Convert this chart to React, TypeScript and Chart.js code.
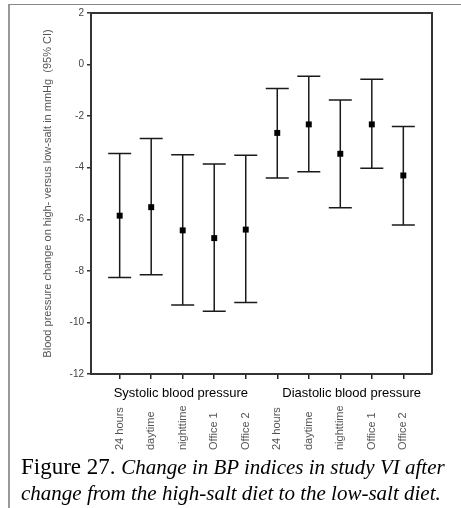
import React, { useEffect, useRef } from "react";
import { Chart, registerables } from "chart.js";

Chart.register(...registerables);

const groupLabels = ["Systolic blood pressure", "Diastolic blood pressure"];
const measureLabels = ["24 hours", "daytime", "nighttime", "Office 1", "Office 2"];
const categories = [...measureLabels, ...measureLabels];

const meanValues = [-5.86, -5.53, -6.43, -6.73, -6.4, -2.65, -2.32, -3.46, -2.32, -4.3];
const lowerCI = [-8.26, -8.15, -9.32, -9.57, -9.23, -4.4, -4.16, -5.55, -4.02, -6.22];
const upperCI = [-3.45, -2.87, -3.5, -3.86, -3.52, -0.93, -0.45, -1.37, -0.57, -2.4];

const yTicks = [2, 0, -2, -4, -6, -8, -10, -12];
const yTitle = "Blood pressure change on high- versus low-salt in mmHg  (95% CI)";
const captionHead = "Figure 27.";
const captionLine1 = "Change in BP indices in study VI after";
const captionLine2 = "change from the high-salt diet to the low-salt diet.";

const SANS = '"Liberation Sans", Arial, sans-serif';

const errorBarPlugin = {
  id: "errorBars",
  beforeDatasetsDraw(chart: any) {
    const { ctx, scales } = chart;
    const xs = scales.x;
    const ys = scales.y;
    ctx.save();
    ctx.strokeStyle = "#1a1a1a";
    ctx.lineWidth = 1.5;
    const cap = 11.5;
    categories.forEach((_, i) => {
      const x = xs.getPixelForValue(i);
      const yl = ys.getPixelForValue(lowerCI[i]);
      const yu = ys.getPixelForValue(upperCI[i]);
      ctx.beginPath();
      ctx.moveTo(x, yu);
      ctx.lineTo(x, yl);
      ctx.moveTo(x - cap, yu);
      ctx.lineTo(x + cap, yu);
      ctx.moveTo(x - cap, yl);
      ctx.lineTo(x + cap, yl);
      ctx.stroke();
    });
    ctx.restore();
  },
};

const decorPlugin = {
  id: "decor",
  afterDraw(chart: any) {
    const { ctx, chartArea, scales } = chart;
    const xs = scales.x;
    ctx.save();
    // plot frame top and right
    ctx.strokeStyle = "#333";
    ctx.lineWidth = 2;
    ctx.beginPath();
    ctx.moveTo(chartArea.left, chartArea.top);
    ctx.lineTo(chartArea.right, chartArea.top);
    ctx.lineTo(chartArea.right, chartArea.bottom);
    ctx.stroke();

    // y title
    ctx.fillStyle = "#555";
    ctx.font = `11px ${SANS}`;
    ctx.textAlign = "center";
    ctx.textBaseline = "middle";
    ctx.save();
    ctx.translate(48, (chartArea.top + chartArea.bottom) / 2);
    ctx.rotate(-Math.PI / 2);
    ctx.fillText(yTitle, 0, 0);
    ctx.restore();

    // group labels
    ctx.fillStyle = "#000";
    ctx.font = `13px ${SANS}`;
    ctx.textAlign = "left";
    ctx.textBaseline = "alphabetic";
    const gBase = chartArea.bottom + 23;
    ctx.fillText(groupLabels[0], xs.getPixelForValue(0) - 6, gBase);
    ctx.fillText(groupLabels[1], xs.getPixelForValue(5) + 5, gBase);

    // rotated category labels
    ctx.fillStyle = "#555";
    ctx.font = `11px ${SANS}`;
    ctx.textAlign = "left";
    ctx.textBaseline = "middle";
    const startY = chartArea.bottom + 76;
    categories.forEach((lab, i) => {
      const x = xs.getPixelForValue(i);
      ctx.save();
      ctx.translate(x, startY);
      ctx.rotate(-Math.PI / 2);
      ctx.fillText(lab, 0, 0);
      ctx.restore();
    });
    ctx.restore();
  },
};

export default function App() {
  const canvasRef = useRef<HTMLCanvasElement | null>(null);

  useEffect(() => {
    if (!canvasRef.current) return;
    const chart = new Chart(canvasRef.current, {
      type: "scatter",
      data: {
        datasets: [
          {
            data: meanValues.map((m, i) => ({ x: i, y: m })),
            pointStyle: "rect",
            pointRadius: 4.2,
            pointHoverRadius: 4.2,
            backgroundColor: "#000",
            borderColor: "#000",
            borderWidth: 0,
          },
        ],
      },
      options: {
        responsive: false,
        animation: false,
        events: [],
        layout: { padding: { top: 13, right: 29, left: 0, bottom: 0 } },
        plugins: {
          legend: { display: false },
          tooltip: { enabled: false },
        },
        scales: {
          x: {
            type: "linear",
            min: -0.91,
            max: categories.length - 1 + 0.91,
            afterBuildTicks: (scale: any) => {
              scale.ticks = categories.map((_, i) => ({ value: i }));
            },
            afterFit: (scale: any) => {
              scale.height = 134;
            },
            ticks: { display: false },
            grid: {
              display: true,
              drawOnChartArea: false,
              drawTicks: true,
              tickLength: 5,
              color: "#222",
              lineWidth: 1.5,
            },
            border: { display: true, color: "#333", width: 2 },
          },
          y: {
            type: "linear",
            min: yTicks[yTicks.length - 1],
            max: yTicks[0],
            afterBuildTicks: (scale: any) => {
              scale.ticks = yTicks.map((v) => ({ value: v }));
            },
            afterFit: (scale: any) => {
              scale.width = 91;
            },
            ticks: {
              color: "#444",
              font: { family: SANS, size: 10 },
              padding: 3,
            },
            grid: {
              display: true,
              drawOnChartArea: false,
              drawTicks: true,
              tickLength: 4,
              color: "#333",
              lineWidth: 1.5,
            },
            border: { display: true, color: "#333", width: 2 },
          },
        },
      },
      plugins: [errorBarPlugin, decorPlugin],
    });
    return () => chart.destroy();
  }, []);

  return (
    <div style={{ position: "absolute", left: 0, top: 0, width: 461, height: 508, background: "#fff", overflow: "hidden" }}>
      <div
        style={{
          position: "absolute",
          left: 8,
          top: 4,
          width: 460,
          height: 510,
          borderTop: "1px solid #888",
          borderLeft: "2px solid #999",
        }}
      />
      <canvas ref={canvasRef} width={461} height={508} style={{ position: "absolute", left: 0, top: 0, display: "block" }} />
      <div
        style={{
          position: "absolute",
          left: 21,
          top: 454,
          whiteSpace: "nowrap",
          fontFamily: '"Liberation Serif", "Times New Roman", serif',
          fontSize: 21,
          lineHeight: "26px",
          color: "#000",
        }}
      >
        <span style={{ fontSize: 23, fontStyle: "normal" }}>{captionHead} </span>
        <span style={{ fontStyle: "italic" }}>{captionLine1}</span>
        <br />
        <span style={{ fontStyle: "italic" }}>{captionLine2}</span>
      </div>
    </div>
  );
}
